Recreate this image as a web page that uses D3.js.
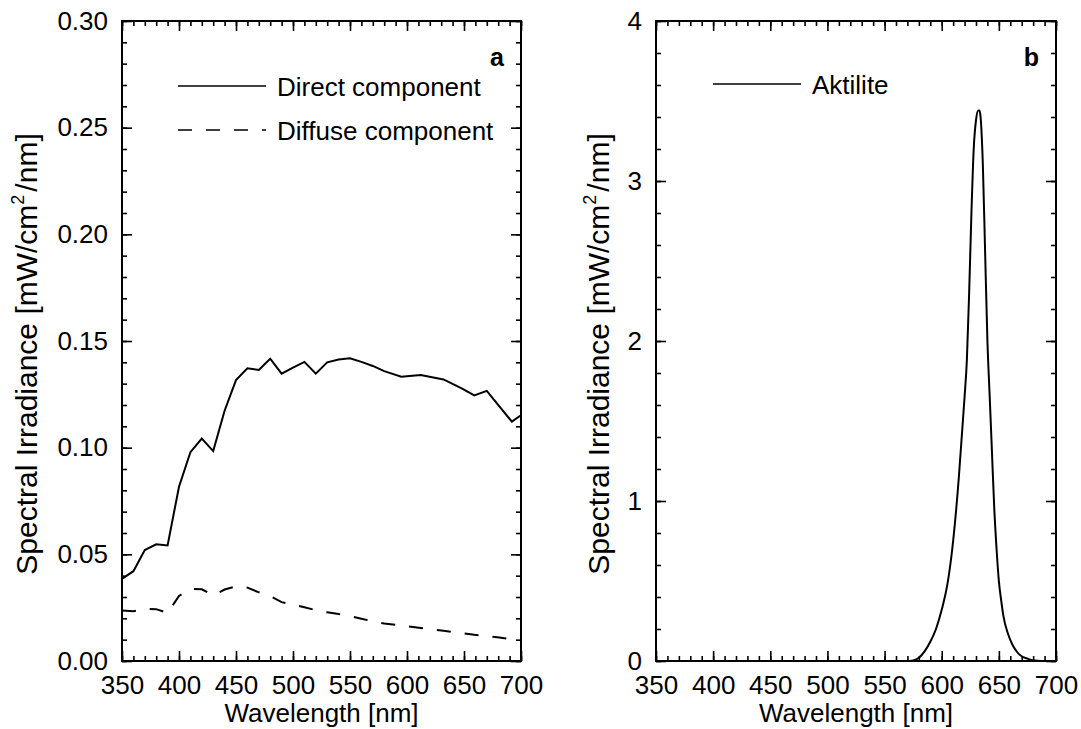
<!DOCTYPE html>
<html>
<head>
<meta charset="utf-8">
<script src="https://cdn.jsdelivr.net/npm/d3@7"></script>
<style>
  body { margin: 0; background: #fff; }
  svg { display: block; }
  text { font-family: "Liberation Sans", Arial, Helvetica, sans-serif; fill: #000; }
  .tick line { stroke: #000; stroke-width: 1.6; }
</style>
</head>
<body>
<div class="container"></div>
<script>
// panel a: direct and diffuse solar components
var directWl = [350, 360, 370, 380, 390, 400, 410, 420, 430, 440, 450, 460, 470, 480, 490, 500,
  510, 520, 530, 540, 550, 560, 570, 580, 595, 612, 632, 648, 659, 670, 681, 692, 700];
var directVal = [0.0385, 0.0421, 0.0520, 0.0547, 0.0542, 0.0817, 0.0979, 0.1043, 0.0984, 0.1173,
  0.1317, 0.1372, 0.1364, 0.1417, 0.1347, 0.1375, 0.1402, 0.1347, 0.1400, 0.1413, 0.1419, 0.1402,
  0.1383, 0.1359, 0.1333, 0.1341, 0.1320, 0.1278, 0.1245, 0.1266, 0.1194, 0.1122, 0.1152];

var diffuseWl = [350, 360, 370, 380, 390, 400, 410, 420, 430, 440, 450, 460, 470, 480, 490, 500,
  510, 520, 530, 540, 550, 560, 570, 580, 595, 612, 632, 648, 659, 670, 681, 692, 700];
var diffuseVal = [0.0237, 0.0233, 0.0245, 0.0243, 0.0225, 0.0305, 0.0338, 0.0336, 0.0308, 0.0335,
  0.0350, 0.0344, 0.0322, 0.0305, 0.0276, 0.0265, 0.0252, 0.0238, 0.0228, 0.0220, 0.0210, 0.0198,
  0.0186, 0.0176, 0.0166, 0.0155, 0.0142, 0.0131, 0.0123, 0.0117, 0.0110, 0.0101, 0.0097];

// panel b: Aktilite lamp
var lampWl = [350, 500, 560, 570, 575, 580, 585, 590, 595, 600, 605, 610, 615, 618, 620, 622, 624,
  626, 628, 630, 632, 633, 634, 636, 638, 640, 642, 644, 646, 648, 650, 652, 654, 658, 662, 668,
  676, 684, 690, 700];
var lampVal = [0, 0, 0, 0, 0.004, 0.02, 0.06, 0.12, 0.20, 0.32, 0.48, 0.75, 1.15, 1.45, 1.65, 1.88,
  2.30, 2.80, 3.20, 3.38, 3.44, 3.44, 3.40, 3.10, 2.55, 2.00, 1.65, 1.30, 0.95, 0.70, 0.50, 0.38,
  0.28, 0.17, 0.10, 0.04, 0.012, 0.002, 0, 0];

var xTicks = [350, 400, 450, 500, 550, 600, 650, 700];
var yTicksA = [0, 0.05, 0.10, 0.15, 0.20, 0.25, 0.30];
var yTicksB = [0, 1, 2, 3, 4];

var width = 1081;
var height = 729;
var top0 = 21;
var bottom0 = 661;

var svg = d3
  .select(".container")
  .append("svg")
  .attr("width", width)
  .attr("height", height);

function minorTicks(lo, hi, step) {
  var out = [];
  var n = Math.round((hi - lo) / step);
  for (var k = 0; k <= n; k++) out.push(lo + k * step);
  return out;
}

function drawPanel(p) {
  var x = d3.scaleLinear().domain([350, 700]).range([p.left, p.right]);
  var y = d3.scaleLinear().domain([0, p.ymax]).range([bottom0, top0]);
  var g = svg.append("g");

  // minor ticks, no labels
  var xm = minorTicks(350, 700, 10);
  var ym = minorTicks(0, p.ymax, p.minor);
  g.append("g").attr("transform", `translate(0,${bottom0})`)
    .call(d3.axisBottom(x).tickValues(xm).tickSize(-5).tickFormat(""));
  g.append("g").attr("transform", `translate(0,${top0})`)
    .call(d3.axisTop(x).tickValues(xm).tickSize(-5).tickFormat(""));
  g.append("g").attr("transform", `translate(${p.left},0)`)
    .call(d3.axisLeft(y).tickValues(ym).tickSize(-5).tickFormat(""));
  g.append("g").attr("transform", `translate(${p.right},0)`)
    .call(d3.axisRight(y).tickValues(ym).tickSize(-5).tickFormat(""));

  // major ticks
  g.append("g").attr("class", "xaxis").attr("transform", `translate(0,${bottom0})`)
    .call(d3.axisBottom(x).tickValues(xTicks).tickSize(-10).tickPadding(15).tickFormat(d3.format("d")));
  g.append("g").attr("transform", `translate(0,${top0})`)
    .call(d3.axisTop(x).tickValues(xTicks).tickSize(-10).tickFormat(""));
  g.append("g").attr("class", "yaxis").attr("transform", `translate(${p.left},0)`)
    .call(d3.axisLeft(y).tickValues(p.yTicks).tickSize(-10).tickPadding(14).tickFormat(p.fmt));
  g.append("g").attr("transform", `translate(${p.right},0)`)
    .call(d3.axisRight(y).tickValues(p.yTicks).tickSize(-10).tickFormat(""));

  g.selectAll(".domain").remove();
  g.selectAll(".tick text").style("font-size", "26px");

  // frame
  g.append("rect")
    .attr("x", p.left).attr("y", top0)
    .attr("width", p.right - p.left).attr("height", bottom0 - top0)
    .attr("fill", "none").attr("stroke", "#000").attr("stroke-width", 2);

  // curves
  p.series.forEach(function (s) {
    var pts = s.wl.map(function (w, i) { return [w, s.val[i]]; });
    var line = d3.line()
      .x(function (d) { return x(d[0]); })
      .y(function (d) { return y(d[1]); })
      .curve(s.curve || d3.curveLinear);
    g.append("path")
      .attr("d", line(pts))
      .attr("fill", "none")
      .attr("stroke", "#000")
      .attr("stroke-width", 2)
      .attr("stroke-dasharray", s.dash || null);
  });

  // legend
  p.series.forEach(function (s, i) {
    var ly = p.legendY[i];
    g.append("line")
      .attr("x1", p.legendX).attr("x2", p.legendX + 88)
      .attr("y1", ly).attr("y2", ly)
      .attr("stroke", "#000").attr("stroke-width", 1.6)
      .attr("stroke-dasharray", s.dash || null);
    g.append("text")
      .attr("x", p.legendX + 99).attr("y", ly + 10)
      .style("font-size", "26px")
      .text(s.name);
  });

  // panel letter
  g.append("text")
    .attr("x", p.right - 17).attr("y", 66)
    .attr("text-anchor", "end")
    .style("font-size", "25px").style("font-weight", "bold")
    .text(p.letter);

  // axis titles
  g.append("text")
    .attr("x", (p.left + p.right) / 2).attr("y", 722)
    .attr("text-anchor", "middle")
    .style("font-size", "26px")
    .text("Wavelength [nm]");

  var yt = g.append("text")
    .attr("transform", `translate(${p.ylabX},354) rotate(-90)`)
    .attr("text-anchor", "middle")
    .style("font-size", "30px");
  yt.append("tspan").text("Spectral Irradiance [mW/cm");
  yt.append("tspan").attr("dy", -13).style("font-size", "18px").text("2");
  yt.append("tspan").attr("dy", 13).attr("dx", 3).text("/nm]");
}

drawPanel({
  left: 122, right: 521, ymax: 0.30, minor: 0.01,
  yTicks: yTicksA, fmt: d3.format(".2f"),
  letter: "a", ylabX: 37, legendX: 178, legendY: [86, 130],
  series: [
    { name: "Direct component", wl: directWl, val: directVal },
    { name: "Diffuse component", wl: diffuseWl, val: diffuseVal, dash: "14,14" },
  ],
});

drawPanel({
  left: 656, right: 1056, ymax: 4, minor: 0.2,
  yTicks: yTicksB, fmt: d3.format("d"),
  letter: "b", ylabX: 609, legendX: 713, legendY: [84],
  series: [
    { name: "Aktilite", wl: lampWl, val: lampVal, curve: d3.curveMonotoneX },
  ],
});
</script>
</body>
</html>
